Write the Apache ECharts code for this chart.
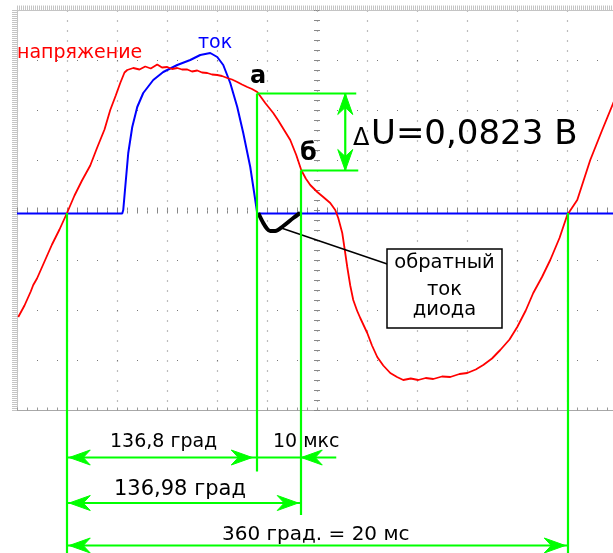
<!DOCTYPE html>
<html><head><meta charset="utf-8">
<script src="https://cdn.jsdelivr.net/npm/echarts@6/dist/echarts.min.js"></script>
<style>html,body{margin:0;padding:0;background:#fff}#c{width:613px;height:553px}</style>
</head><body><div id="c"></div>
<script>
// x: time, ms (2 ms per division); y: screen divisions
const voltage = [[0.05,-2.13],[0.3,-1.9],[0.55,-1.62],[0.65,-1.49],[0.8,-1.36],[1.1,-1.02],[1.4,-0.68],[1.7,-0.38],[2.0,-0.05],[2.3,0.3],[2.6,0.6],[2.93,0.9],[3.2,1.25],[3.5,1.62],[3.73,2.01],[3.95,2.3],[4.13,2.55],[4.3,2.76],[4.41,2.81],[4.65,2.85],[4.9,2.82],[5.13,2.88],[5.35,2.84],[5.61,2.92],[5.8,2.86],[6.01,2.87],[6.2,2.83],[6.41,2.85],[6.6,2.82],[6.81,2.82],[7.0,2.78],[7.21,2.8],[7.4,2.76],[7.61,2.75],[7.8,2.72],[8.01,2.71],[8.2,2.69],[8.41,2.65],[8.6,2.62],[8.81,2.57],[9.0,2.52],[9.21,2.47],[9.4,2.43],[9.61,2.37],[9.77,2.26],[9.93,2.15],[10.25,1.95],[10.45,1.8],[10.61,1.67],[10.93,1.41],[11.17,1.11],[11.37,0.81],[11.55,0.64],[11.73,0.51],[12.01,0.37],[12.25,0.27],[12.53,0.15],[12.73,0.01],[12.85,-0.15],[13.01,-0.45],[13.1,-0.75],[13.21,-1.13],[13.33,-1.5],[13.45,-1.79],[13.6,-2.0],[13.73,-2.15],[14.01,-2.45],[14.2,-2.7],[14.41,-2.93],[14.65,-3.1],[14.93,-3.25],[15.2,-3.33],[15.45,-3.39],[15.75,-3.36],[16.05,-3.39],[16.35,-3.35],[16.65,-3.37],[17.0,-3.32],[17.33,-3.33],[17.7,-3.27],[18.01,-3.25],[18.35,-3.18],[18.65,-3.09],[19.0,-2.96],[19.33,-2.79],[19.7,-2.58],[20.01,-2.33],[20.35,-2.0],[20.65,-1.65],[21.0,-1.33],[21.33,-0.99],[21.7,-0.55],[22.01,-0.09],[22.41,0.21],[22.93,1.01],[23.4,1.6],[23.85,2.15],[24.0,2.3]];
const current = [[0.0,-0.06],[4.21,-0.06],[4.25,0.01],[4.33,0.47],[4.45,1.15],[4.61,1.67],[4.81,2.07],[5.05,2.35],[5.45,2.61],[5.85,2.77],[6.41,2.91],[6.93,3.01],[7.33,3.11],[7.73,3.15],[8.01,3.07],[8.25,2.91],[8.53,2.55],[8.81,2.07],[9.05,1.55],[9.33,0.87],[9.53,0.21],[9.61,-0.06],[24.0,-0.06]];
const reverseCurrent = [[9.65,-0.05],[9.85,-0.25],[10.01,-0.37],[10.13,-0.41],[10.33,-0.41],[10.65,-0.31],[11.05,-0.15],[11.33,-0.05]];
const leaderLine = [[10.57,-0.35],[14.81,-1.07]];
// green dimension lines: [x1, y1, x2, y2]
const greenSegments = [[2.0,-0.05,2.0,-6.85],[9.6,2.34,9.6,-5.22],[11.36,0.8,11.36,-6.09],[22.04,-0.05,22.04,-6.85],[9.6,2.34,13.57,2.34],[11.36,0.8,13.65,0.8],[13.13,2.34,13.13,0.8],[2.0,-4.94,12.77,-4.94],[2.0,-5.85,11.36,-5.85],[2.0,-6.7,22.04,-6.7]];
// arrow heads: [tipX, tipY, direction in degrees]
const greenArrows = [[2.09,-4.94,180],[9.41,-4.94,0],[11.37,-4.94,180],[2.09,-5.85,180],[11.25,-5.85,0],[2.09,-6.7,180],[21.93,-6.7,0],[13.13,2.34,90],[13.13,0.8,270]];

const F = 'DejaVu Sans';
const chart = echarts.init(document.getElementById('c'), null, {renderer: 'canvas'});
const gridColor = '#7a7a7a', rulerColor = '#c4c4c4';
const noLabel = {show: false};
function xAx(extra){ return Object.assign({type:'value', min:0, max:24, interval:2, axisLabel:noLabel, splitLine:{show:false}, axisLine:{show:false, onZero:false}}, extra); }
function yAx(extra){ return Object.assign({type:'value', min:-4, max:4, interval:1, axisLabel:noLabel, splitLine:{show:false}, axisLine:{show:false, onZero:false}}, extra); }

chart.setOption({
  animation: false,
  backgroundColor: '#fff',
  grid: {left: 17, top: 10.5, width: 600, height: 400, containLabel: false, outerBoundsMode: 'none'},
  xAxis: [
    xAx({position:'bottom', axisLine:{show:true, onZero:false, lineStyle:{color:'#a8a8a8', width:1}},
      axisTick:{show:true, inside:true, length:3, lineStyle:{color:'#999'}},
      minorTick:{show:true, splitNumber:5, length:3, lineStyle:{color:'#999'}},
      splitLine:{show:true, lineStyle:{color:gridColor, width:1.2, type:[1,9]}}}),
    xAx({position:'bottom', offset:-200, axisTick:{show:true, inside:true, length:3, lineStyle:{color:'#888'}}, minorTick:{show:true, splitNumber:5, length:3, lineStyle:{color:'#888'}}}),
    xAx({position:'bottom', offset:-200, axisTick:{show:true, inside:false, length:3, lineStyle:{color:'#888'}}, minorTick:{show:true, splitNumber:5, length:3, lineStyle:{color:'#888'}}}),
    xAx({position:'top', axisLine:{show:true, onZero:false, lineStyle:{color:rulerColor, width:1}}, axisTick:{show:true, inside:false, length:5, lineStyle:{color:rulerColor}}, minorTick:{show:true, splitNumber:25, length:5, lineStyle:{color:rulerColor}}})
  ],
  yAxis: [
    yAx({position:'left', axisLine:{show:true, onZero:false, lineStyle:{color:rulerColor, width:1}},
      axisTick:{show:true, inside:false, length:5, lineStyle:{color:rulerColor}},
      minorTick:{show:true, splitNumber:25, length:5, lineStyle:{color:rulerColor}},
      splitLine:{show:true, lineStyle:{color:gridColor, width:1.2, type:[1,19]}}}),
    yAx({position:'left', offset:-300, axisTick:{show:true, inside:true, length:3, lineStyle:{color:'#888'}}, minorTick:{show:true, splitNumber:5, length:3, lineStyle:{color:'#888'}}}),
    yAx({position:'left', offset:-300, axisTick:{show:true, inside:false, length:3, lineStyle:{color:'#888'}}, minorTick:{show:true, splitNumber:5, length:3, lineStyle:{color:'#888'}}})
  ],
  series: [
    {type:'line', data: current, symbol:'none', lineStyle:{color:'#0000ff', width:2}, z:3},
    {type:'line', data: voltage, symbol:'none', lineStyle:{color:'#ff0000', width:1.8}, z:4},
    {type:'line', data: reverseCurrent, symbol:'none', smooth:0.3, lineStyle:{color:'#000', width:4}, z:5},
    {type:'line', data: leaderLine, symbol:'none', lineStyle:{color:'#000', width:1.5}, z:5},
    {type:'custom', coordinateSystem:'cartesian2d', clip:false, z:6, data: greenSegments, encode:{x:[0,2], y:[1,3]},
      renderItem: (p, api) => {
        const a = api.coord([api.value(0), api.value(1)]);
        const b = api.coord([api.value(2), api.value(3)]);
        return {type:'line', shape:{x1:a[0], y1:a[1], x2:b[0], y2:b[1]}, style:{stroke:'#00ff00', lineWidth:2.2}};
      }},
    {type:'custom', coordinateSystem:'cartesian2d', clip:false, z:7, data: greenArrows, encode:{x:0, y:1},
      renderItem: (p, api) => {
        const tip = api.coord([api.value(0), api.value(1)]);
        const ang = api.value(2) * Math.PI / 180;
        const dx = Math.cos(ang), dy = -Math.sin(ang);
        const px = -dy, py = dx;
        const shape = [[0,0],[-21,-7.5],[-14,0],[-21,7.5]];
        const pts = shape.map(([u, w]) => [tip[0] + u*dx + w*px, tip[1] + u*dy + w*py]);
        return {type:'polygon', shape:{points:pts}, style:{fill:'#00ff00', stroke:'#00ff00', lineWidth:1}};
      }}
  ],
  graphic: [
    {type:'rect', z:50, shape:{x:387, y:249, width:115, height:79}, style:{fill:'#fff', stroke:'#000', lineWidth:1.5}},
    {type:'text', z:60, x:17, y:53.4, style:{text:'напряжение', font:'19px "'+F+'"', fill:'#ff0000', align:'left', verticalAlign:'middle'}},
    {type:'text', z:60, x:198, y:43.4, style:{text:'ток', font:'19px "'+F+'"', fill:'#0000ff', align:'left', verticalAlign:'middle'}},
    {type:'text', z:60, x:250, y:76.7, style:{text:'а', font:'bold 24px "'+F+'"', fill:'#000', align:'left', verticalAlign:'middle'}},
    {type:'text', z:60, x:300, y:153.4, style:{text:'б', font:'bold 24px "'+F+'"', fill:'#000', align:'left', verticalAlign:'middle'}},
    {type:'text', z:60, x:353, y:138.4, style:{text:'Δ', font:'24px "'+F+'"', fill:'#000', align:'left', verticalAlign:'middle'}},
    {type:'text', z:60, x:371, y:134.9, style:{text:'U=0,0823 В', font:'34px "'+F+'"', fill:'#000', align:'left', verticalAlign:'middle'}},
    {type:'text', z:60, x:444.5, y:263.3, style:{text:'обратный', font:'19.5px "'+F+'"', fill:'#000', align:'center', verticalAlign:'middle'}},
    {type:'text', z:60, x:444.5, y:290, style:{text:'ток', font:'19.5px "'+F+'"', fill:'#000', align:'center', verticalAlign:'middle'}},
    {type:'text', z:60, x:444.5, y:310.3, style:{text:'диода', font:'19.5px "'+F+'"', fill:'#000', align:'center', verticalAlign:'middle'}},
    {type:'text', z:60, x:110, y:441.9, style:{text:'136,8 град', font:'19px "'+F+'"', fill:'#000', align:'left', verticalAlign:'middle'}},
    {type:'text', z:60, x:273, y:441.9, style:{text:'10 мкс', font:'19px "'+F+'"', fill:'#000', align:'left', verticalAlign:'middle'}},
    {type:'text', z:60, x:114, y:489.4, style:{text:'136,98 град', font:'21px "'+F+'"', fill:'#000', align:'left', verticalAlign:'middle'}},
    {type:'text', z:60, x:222, y:534.8, style:{text:'360 град. = 20 мс', font:'20px "'+F+'"', fill:'#000', align:'left', verticalAlign:'middle'}}
  ]
});
</script>
</body></html>
